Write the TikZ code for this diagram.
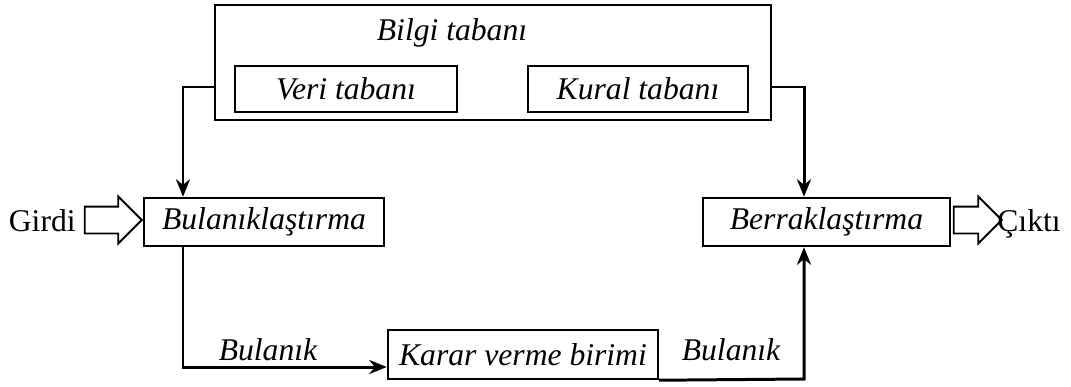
\documentclass[tikz,border=0pt]{standalone}
\usepackage{fontspec}
\setmainfont{Liberation Serif}
\usetikzlibrary{arrows.meta,shapes.arrows}

\begin{document}
\begin{tikzpicture}[x=0.02cm,y=-0.02cm,
	blok/.style={draw, line width=1.4pt, inner sep=0pt, font=\fontsize{18}{21}\selectfont\itshape},
	yazi/.style={inner sep=0pt, anchor=base, font=\fontsize{18}{21}\selectfont},
	okucu/.style={line width=1.7pt, -{Stealth[length=10pt,width=8pt]}},
	bosok/.style={single arrow, draw, line width=1.1pt, inner sep=0.25cm, minimum width=0.9cm, single arrow head extend=0.2cm}]
	\useasboundingbox (0,0) rectangle (1071,386);
			\node[blok, minimum width=11.12cm, minimum height=2.3cm] (bilgi) at (493,62.5) {};
			\node[yazi, font=\fontsize{18}{21}\selectfont\itshape] (baslik) at (452,40) {Bilgi tabanı};
			\node[blok, minimum width=4.44cm, minimum height=0.92cm] (veri) at (346,89) {Veri tabanı};
			\node[blok, minimum width=4.4cm, minimum height=0.92cm] (kural) at (638,89) {Kural tabanı};
			\node[blok, minimum width=4.8cm, minimum height=0.96cm] (bulan) at (264,222) {Bulanıklaştırma};
			\node[blok, minimum width=4.94cm, minimum height=0.96cm] (berr) at (826.5,222) {Berraklaştırma};
			\node[blok, minimum width=5.4cm, minimum height=0.98cm] (karar) at (523,354.5) {Karar verme birimi};
			\node[yazi, anchor=base east] (girdi) at (76,231) {Girdi};
			\node[yazi, anchor=base west] (cikti) at (997,231) {Çıktı};
			\node[bosok, minimum height=1.14cm] (giris) at (106.5,220) {};
			\node[bosok, minimum height=0.96cm] (cikis) at (971,220) {};
			\node[yazi, font=\fontsize{18}{21}\selectfont\itshape] (bul1) at (268,360) {Bulanık};
			\node[yazi, font=\fontsize{18}{21}\selectfont\itshape] (bul2) at (731,360) {Bulanık};
			\coordinate (sol) at (183,87);
			\coordinate (sag) at (804,87);
			\coordinate (alt1) at (183,367);
			\coordinate (alt2) at (804,379);
			\draw[okucu] (bilgi.west |- sol) -- (sol) -- (sol |- bulan.north);
			\draw[okucu] (bilgi.east |- sag) -- (sag) -- (sag |- berr.north);
			\draw[okucu] (bulan.south -| alt1) -- (alt1) -- (karar.west |- alt1);
			\draw[okucu] (karar.south east) -- (alt2) -- (alt2 |- berr.south);
		\end{tikzpicture}
\end{document}
